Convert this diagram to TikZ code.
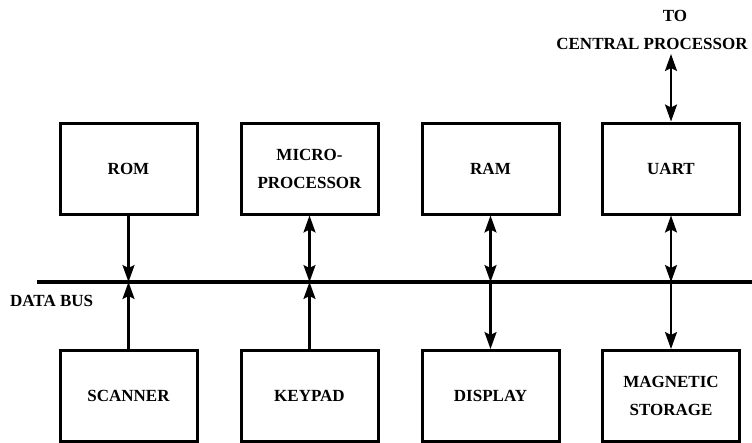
\documentclass[tikz,border=0pt]{standalone}
\usepackage{fontspec}
\setmainfont{Liberation Serif}
\usetikzlibrary{arrows.meta,positioning}
\tikzset{
  unit/.style={
    shape = rectangle,
    draw,
    line width = 3pt,
    minimum width = 137pt,
    minimum height = 91pt,
    align = center,
    inner sep = 0pt
  },
  bus/.style={
    line width = 4pt
  },
  link/.style={
    line width = 2.2pt,
    >={Stealth[length=17pt,width=12pt,inset=3pt]}
  },
  every picture/.style = {
    font=\fontsize{17}{28}\selectfont\bfseries
  }
}
\begin{document}
\begin{tikzpicture}[x=1pt,y=-1pt]
  \useasboundingbox (0,0) rectangle (752,442);

  % top row
  \node[unit] (rom)   at (128.5,168.5) {ROM};
  \node[unit] (micro) at (309.5,168.5) {MICRO-\\PROCESSOR};
  \node[unit] (ram)   at (490.5,168.5) {RAM};
  \node[unit] (uart)  at (671,168.5)   {UART};

  % bottom row
  \node[unit] (scan)  at (128.5,396) {SCANNER};
  \node[unit] (key)   at (309.5,396) {KEYPAD};
  \node[unit] (disp)  at (490.5,396) {DISPLAY};
  \node[unit] (mag)   at (671,396)   {MAGNETIC\\STORAGE};

  % data bus
  \coordinate (busL) at (37,282);
  \coordinate (busR) at (752,282);
  \draw[bus] (busL) -- (busR);
  \node[anchor=west, inner sep=0pt] (busname) at (10,301) {DATA BUS};

  \coordinate (b1) at (rom.south |- busL);
  \coordinate (b2) at (micro.south |- busL);
  \coordinate (b3) at (ram.south |- busL);
  \coordinate (b4) at (uart.south |- busL);

  \draw[link,->]  (rom.south)   -- (b1);
  \draw[link,->]  (scan.north)  -- (b1);
  \draw[link,<->] (micro.south) -- (b2);
  \draw[link,->]  (key.north)   -- (b2);
  \draw[link,<->] (ram.south)   -- (b3);
  \draw[link,->]  (b3) -- (disp.north);
  \draw[link,<->] (uart.south)  -- (b4);
  \draw[link,->]  (b4) -- (mag.north);

  % link to the central processor
  \node[align=center, inner sep=0pt] (cpu) at (652,30) {\hspace*{46pt}TO\\CENTRAL PROCESSOR};
  \coordinate (cpuend) at (671,54);
  \draw[link,<->] (uart.north) -- (cpuend);
\end{tikzpicture}
\end{document}
